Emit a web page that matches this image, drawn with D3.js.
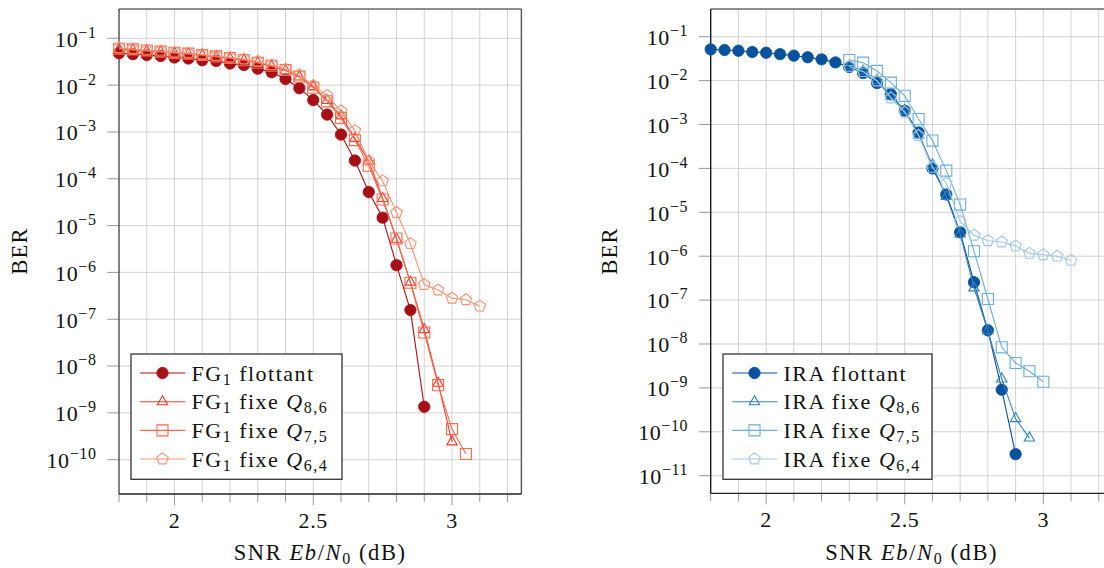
<!DOCTYPE html>
<html><head><meta charset="utf-8">
<script src="https://cdn.jsdelivr.net/npm/d3@7"></script>
<style>
body{margin:0;background:#fff;}
svg, svg text{font-family:'Liberation Serif','DejaVu Serif',serif;}
</style></head><body>
<svg id="c" width="1104" height="568"></svg>
<script>
// ---------- DATA ----------
const snrAll   = [1.8,1.85,1.9,1.95,2.0,2.05,2.1,2.15,2.2,2.25,2.3,2.35,2.4,2.45,2.5,2.55,2.6,2.65,2.7,2.75,2.8,2.85,2.9,2.95,3.0,3.05,3.1];
const snrFrom23 = [2.3,2.35,2.4,2.45,2.5,2.55,2.6,2.65,2.7,2.75,2.8,2.85,2.9,2.95,3.0,3.05,3.1];

// Left panel (FG1)
const fgFlottant = [0.048,0.046,0.044,0.042,0.039,0.037,0.034,0.033,0.029,0.027,0.0225,0.0188,0.0135,0.0086,0.0048,0.00235,8.8e-4,2.45e-4,5.2e-5,1.48e-5,1.43e-6,1.57e-7,1.35e-9];
const fgQ86 = [0.058,0.056,0.053,0.051,0.048,0.046,0.043,0.040,0.037,0.034,0.030,0.025,0.0205,0.015,0.0093,0.0047,0.0022,7.3e-4,2.4e-4,3.8e-5,5.1e-6,6.2e-7,6.0e-8,4.3e-9,2.4e-10];
const fgQ75 = [0.060,0.058,0.055,0.052,0.049,0.047,0.044,0.041,0.038,0.034,0.030,0.026,0.021,0.0152,0.0088,0.0045,0.0020,6.7e-4,1.9e-4,3.6e-5,5.3e-6,6.0e-7,5.2e-8,3.9e-9,4.5e-10,1.32e-10];
const fgQ64 = [0.062,0.059,0.056,0.053,0.050,0.048,0.045,0.042,0.039,0.036,0.032,0.027,0.022,0.0165,0.0098,0.0060,0.0028,1.07e-3,2.4e-4,9.0e-5,1.9e-5,4.1e-6,5.5e-7,4.2e-7,2.8e-7,2.6e-7,1.9e-7];

// Right panel (IRA)
const iraFlottant = [0.0515,0.0497,0.048,0.0448,0.0432,0.040,0.037,0.034,0.0305,0.026,0.0204,0.0149,0.0088,0.00487,0.00205,6.6e-4,1.0e-4,2.55e-5,3.5e-6,2.55e-7,2.05e-8,9.1e-10,3.1e-11];
const iraQ86 = [0.0215,0.0165,0.0102,0.0044,0.0021,5.8e-4,1.2e-4,2.3e-5,3.2e-6,1.9e-7,2.0e-8,1.6e-9,2.0e-10,7.2e-11];
const iraQ75 = [0.0294,0.0256,0.0166,0.009,0.0045,0.00133,4.3e-4,8.9e-5,1.5e-5,1.3e-6,1.06e-7,8.4e-9,3.7e-9,2.4e-9,1.38e-9];
const iraQ64 = [0.021,0.016,0.0098,0.0040,0.0019,5.6e-4,1.05e-4,4.6e-5,6.2e-6,3.0e-6,2.25e-6,2.1e-6,1.72e-6,1.16e-6,1.08e-6,1.0e-6,8.0e-7];

const xGrid = [1.8,1.9,2.0,2.1,2.2,2.3,2.4,2.5,2.6,2.7,2.8,2.9,3.0,3.1,3.2];
const xMajor = [2, 2.5, 3];
const xMajorLabels = ["2","2.5","3"];
const yExpLeft  = [1,2,3,4,5,6,7,8,9,10];
const yExpRight = [1,2,3,4,5,6,7,8,9,10,11];

const redColors  = ["#a50f15","#ef3b2c","#fb6a4a","#fc9272"];
const blueColors = ["#08519c","#3182bd","#6baed6","#9ecae1"];
const markerKinds = ["circle","triangle","square","pentagon"];
const legendQ = ["","8,6","7,5","6,4"];

// ---------- DRAW ----------
const FONT = "'Liberation Serif','DejaVu Serif',serif";
const svg = d3.select("#c").attr("font-family", FONT);

function markerPath(kind, r){
  if(kind==="triangle"){
    const p=[90,210,330].map(a=>[r*Math.cos(a*Math.PI/180), -r*Math.sin(a*Math.PI/180)]);
    return "M"+p.map(q=>q.join(",")).join("L")+"Z";
  }
  if(kind==="square"){
    const s=r*0.92; return `M${-s},${-s}H${s}V${s}H${-s}Z`;
  }
  if(kind==="pentagon"){
    const p=[90,162,234,306,18].map(a=>[r*Math.cos(a*Math.PI/180), -r*Math.sin(a*Math.PI/180)]);
    return "M"+p.map(q=>q.join(",")).join("L")+"Z";
  }
  return d3.symbol(d3.symbolCircle, Math.PI*r*r)();
}

function drawMarker(g, kind, color, x, y){
  if(kind==="circle"){
    g.append("circle").attr("cx",x).attr("cy",y).attr("r",5.7)
      .attr("fill",color).attr("stroke",color).attr("stroke-width",0.8);
  } else {
    g.append("path").attr("d",markerPath(kind,6)).attr("transform",`translate(${x},${y})`)
      .attr("fill","none").attr("stroke",color).attr("stroke-width",1.1);
  }
}

function panel(cfg){
  const x = d3.scaleLinear().domain([1.8,3.25]).range([cfg.x0,cfg.x1]);
  const y = d3.scaleLog().domain([Math.pow(10,cfg.logBot),Math.pow(10,cfg.logTop)]).range([cfg.y1,cfg.y0]);
  const g = svg.append("g").attr("font-family", FONT);

  // grid
  g.selectAll(".vg").data(xGrid).join("line")
    .attr("x1",d=>x(d)).attr("x2",d=>x(d)).attr("y1",cfg.y0).attr("y2",cfg.y1)
    .attr("stroke","#d3d3d3").attr("stroke-width",1);
  g.selectAll(".hg").data(cfg.yExp).join("line")
    .attr("x1",cfg.x0).attr("x2",cfg.x1).attr("y1",d=>y(Math.pow(10,-d))).attr("y2",d=>y(Math.pow(10,-d)))
    .attr("stroke","#d3d3d3").attr("stroke-width",1);

  // ticks
  g.selectAll(".xt").data(xGrid).join("line")
    .attr("x1",d=>x(d)).attr("x2",d=>x(d)).attr("y1",cfg.y1)
    .attr("y2",d=>cfg.y1 + (xMajor.some(m=>Math.abs(m-d)<1e-9)?11:8))
    .attr("stroke","#999").attr("stroke-width",1);
  g.selectAll(".yt").data(cfg.yExp).join("line")
    .attr("x1",cfg.x0-11.7).attr("x2",cfg.x0).attr("y1",d=>y(Math.pow(10,-d))).attr("y2",d=>y(Math.pow(10,-d)))
    .attr("stroke","#999").attr("stroke-width",1);

  // frame
  g.append("line").attr("x1",cfg.x0).attr("x2",cfg.x1).attr("y1",cfg.y0).attr("y2",cfg.y0).attr("stroke","#6a6a6a").attr("stroke-width",1.4);
  g.append("line").attr("x1",cfg.x1).attr("x2",cfg.x1).attr("y1",cfg.y0).attr("y2",cfg.y1).attr("stroke","#555").attr("stroke-width",1.4);
  g.append("line").attr("x1",cfg.x0).attr("x2",cfg.x0).attr("y1",cfg.y0).attr("y2",cfg.y1).attr("stroke",cfg.leftCol).attr("stroke-width",1.3);
  g.append("line").attr("x1",cfg.x0).attr("x2",cfg.x1).attr("y1",cfg.y1).attr("y2",cfg.y1).attr("stroke","#222").attr("stroke-width",1.3);

  // tick labels
  g.selectAll(".xl").data(xMajor).join("text")
    .attr("x",d=>x(d)).attr("y",cfg.y1+33.5).attr("text-anchor","middle")
    .attr("font-size",22).attr("fill","#111").attr("letter-spacing",0.6).text((d,i)=>xMajorLabels[i]);
  cfg.yExp.forEach(e=>{
    const t = g.append("text").attr("x",cfg.x0-22.5).attr("y",y(Math.pow(10,-e))+8.4)
      .attr("text-anchor","end").attr("font-size",22).attr("fill","#111").attr("letter-spacing",0.6);
    t.append("tspan").text("10");
    t.append("tspan").attr("dy",-9).attr("font-size",16).text("\u2212"+e);
  });

  // axis labels
  const xl = g.append("text").attr("x",(cfg.x0+cfg.x1)/2).attr("y",560).attr("text-anchor","middle")
    .attr("font-size",22.5).attr("fill","#111").attr("letter-spacing",1.6);
  xl.append("tspan").text("SNR ");
  xl.append("tspan").attr("font-style","italic").text("Eb");
  xl.append("tspan").text("/");
  xl.append("tspan").attr("font-style","italic").text("N");
  xl.append("tspan").attr("font-size",16).attr("dy",4).text("0");
  xl.append("tspan").attr("dy",-4).text(" (dB)");
  g.append("text").attr("transform",`translate(${cfg.yLabX},251) rotate(-90)`).attr("text-anchor","middle")
    .attr("font-size",22.5).attr("fill","#111").attr("letter-spacing",1.2).text("BER");

  // series
  const line = d3.line().x(d=>x(d[0])).y(d=>y(d[1]));
  cfg.series.forEach((s,i)=>{
    const pts = s.vals.map((v,k)=>[s.xs[k],v]);
    g.append("path").attr("d",line(pts)).attr("fill","none").attr("stroke",cfg.colors[i]).attr("stroke-width",1.1);
    const mg = g.append("g");
    pts.forEach(p=>drawMarker(mg, markerKinds[i], cfg.colors[i], x(p[0]), y(p[1])));
  });

  // legend
  const lg = g.append("g");
  lg.append("rect").attr("x",cfg.legX).attr("y",354).attr("width",cfg.legW).attr("height",125.3)
    .attr("fill","#fff").attr("stroke","#333").attr("stroke-width",1.3);
  [373,401.7,430.4,459].forEach((cy,i)=>{
    lg.append("line").attr("x1",cfg.legX+9.2).attr("x2",cfg.legX+54.2).attr("y1",cy).attr("y2",cy)
      .attr("stroke",cfg.colors[i]).attr("stroke-width",1.1);
    drawMarker(lg, markerKinds[i], cfg.colors[i], cfg.legX+31.5, cy);
    const t = lg.append("text").attr("x",cfg.legX+60.5).attr("y",cy+7.5).attr("font-size",22).attr("fill","#111")
      .attr("letter-spacing",cfg.ls);
    if(cfg.prefix==="FG"){
      t.append("tspan").text("FG");
      t.append("tspan").attr("font-size",16).attr("dy",4).text("1");
      t.append("tspan").attr("dy",-4).text(i===0?" flottant":" fixe ");
    } else {
      t.append("tspan").text(i===0?"IRA flottant":"IRA fixe ");
    }
    if(i>0){
      t.append("tspan").attr("font-style","italic").text("Q");
      t.append("tspan").attr("font-size",16).attr("dy",4).text(legendQ[i]);
    }
  });
}

panel({x0:119, x1:521.4, y0:9, y1:494, logTop:-0.374, logBot:-10.733, yExp:yExpLeft,
  colors:redColors, leftCol:"#4a4a4a", yLabX:26.5, legX:131, legW:211, prefix:"FG", ls:1.5,
  series:[{xs:snrAll, vals:fgFlottant},{xs:snrAll, vals:fgQ86},{xs:snrAll, vals:fgQ75},{xs:snrAll, vals:fgQ64}]});

panel({x0:710.7, x1:1112.6, y0:9, y1:493.3, logTop:-0.369, logBot:-11.401, yExp:yExpRight,
  colors:blueColors, leftCol:"#111", yLabX:617, legX:723, legW:209, prefix:"IRA", ls:1.5,
  series:[{xs:snrAll, vals:iraFlottant},{xs:snrFrom23, vals:iraQ86},{xs:snrFrom23, vals:iraQ75},{xs:snrFrom23, vals:iraQ64}]});
</script>
</body></html>
